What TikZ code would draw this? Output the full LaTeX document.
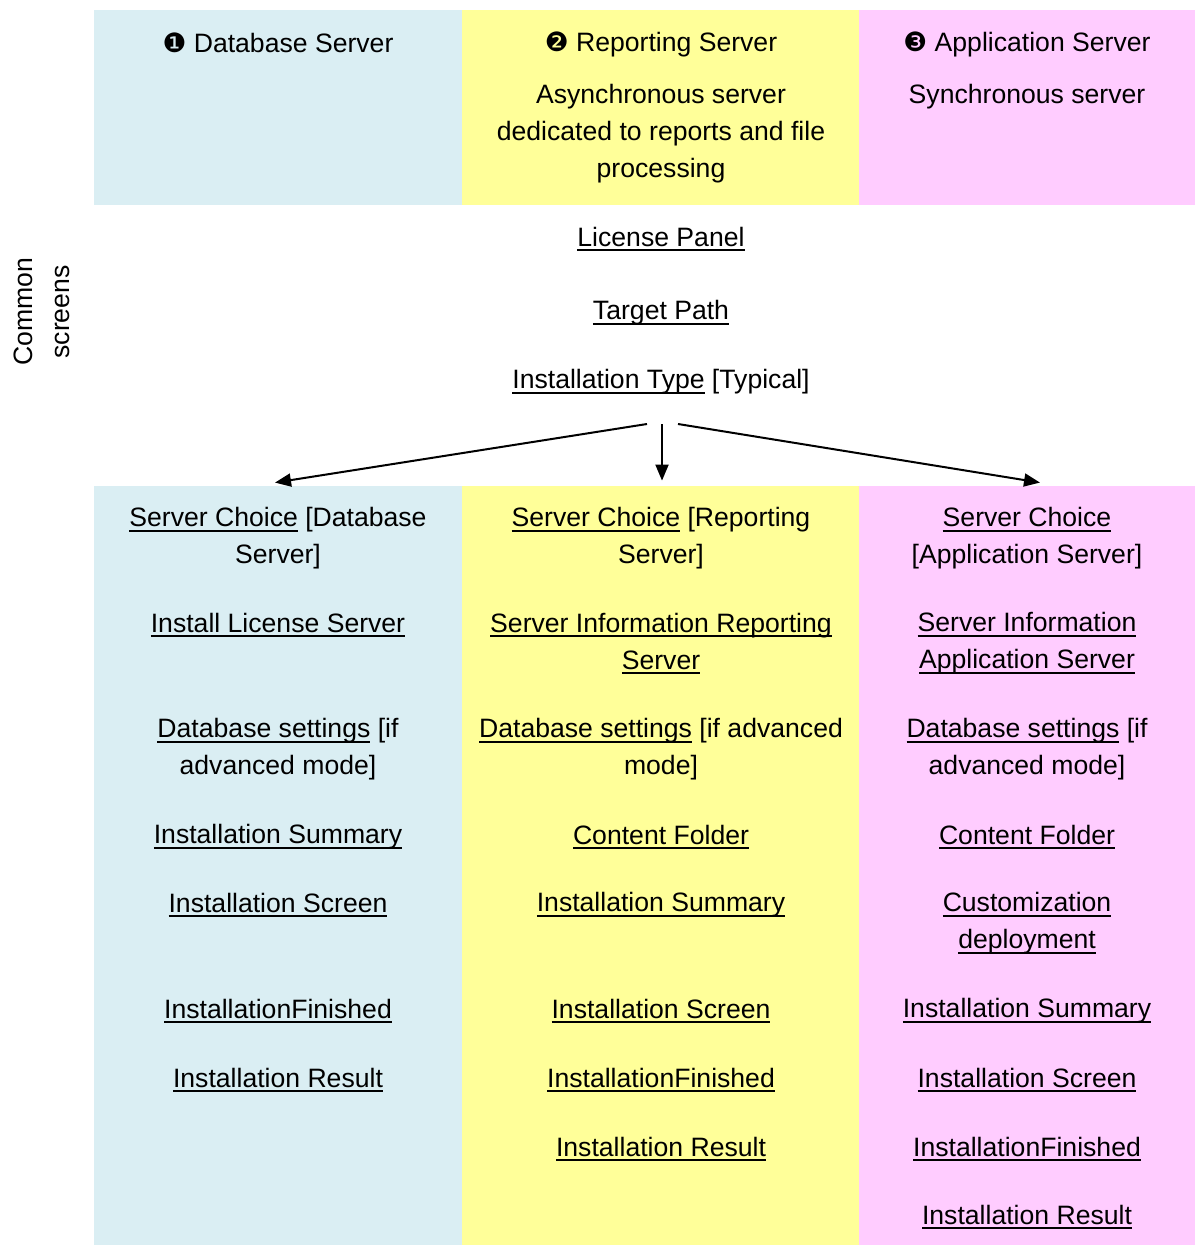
\documentclass[tikz,border=0pt]{standalone}
\usepackage{fontspec}
\setmainfont{Liberation Sans}
\newfontfamily\dingfont{DejaVu Sans}
\usetikzlibrary{arrows.meta}
\definecolor{dbblue}{HTML}{DAEEF3}
\definecolor{repyellow}{HTML}{FFFF99}
\definecolor{apppink}{HTML}{FFCCFF}
\newlength{\lnkwd}
\newcommand{\lnk}[1]{\settowidth{\lnkwd}{#1}\rlap{\rule[-2.4pt]{\lnkwd}{0.9pt}}#1}

\begin{document}
\begin{tikzpicture}[x=0.5pt, y=-0.5pt,
    every node/.style={font=\fontsize{13.3}{18.5}\selectfont, align=center, inner sep=0pt},
    colbox/.style={draw=none, minimum height=379.5pt},
    headbox/.style={draw=none, minimum height=97.5pt},
    arr/.style={-{Triangle[length=8pt,width=6.5pt]}, line width=1pt}]
    \useasboundingbox (0,0) rectangle (1196,1245);

    % header row
    \node[headbox, fill=dbblue, minimum width=184pt] (dbtop) at (278,107.5) {};
    \node[headbox, fill=repyellow, minimum width=198.5pt] (reptop) at (660.5,107.5) {};
    \node[headbox, fill=apppink, minimum width=168pt] (apptop) at (1027,107.5) {};

    \node (dbhead) at (278,43) {{\dingfont ❶} Database Server};
    \node (rephead) at (661,44) {{\dingfont ❷} Reporting Server};
    \node (repdesc) at (661,134) {Asynchronous server\\dedicated to reports and file\\processing};
    \node (apphead) at (1027,44) {{\dingfont ❸} Application Server};
    \node (appdesc) at (1027,97) {Synchronous server};

    % common screens
    \node[rotate=90] (common) at (42,312) {Common\\screens};
    \node (license) at (661,239) {\lnk{License Panel}};
    \node (target) at (661,313) {\lnk{Target Path}};
    \node (insttype) at (661,382) {\lnk{Installation Type} [Typical]};
    \coordinate (fork) at (662,424);

    % columns
    \node[colbox, fill=dbblue, minimum width=184pt] (dbcol) at (278,865.5) {};
    \node[colbox, fill=repyellow, minimum width=198.5pt] (repcol) at (660.5,865.5) {};
    \node[colbox, fill=apppink, minimum width=168pt] (appcol) at (1027,865.5) {};

    \draw[arr] ([xshift=-7.5pt]fork) -- ([xshift=-1.5pt,yshift=1.5pt]dbcol.north);
    \draw[arr] (fork) -- ([xshift=0.75pt,yshift=2.5pt]repcol.north);
    \draw[arr] ([xshift=8pt]fork) -- ([xshift=6.5pt,yshift=1.5pt]appcol.north);

    % database server screens
    \node (db1) at (278,538.5) {\lnk{Server Choice} [Database\\Server]};
    \node (db2) at (278,625) {\lnk{Install License Server}};
    \node (db3) at (278,749.5) {\lnk{Database settings} [if\\advanced mode]};
    \node (db4) at (278,837) {\lnk{Installation Summary}};
    \node (db5) at (278,905) {\lnk{Installation Screen}};
    \node (db6) at (278,1011) {\lnk{InstallationFinished}};
    \node (db7) at (278,1080) {\lnk{Installation Result}};

    % reporting server screens
    \node (rep1) at (661,538.5) {\lnk{Server Choice} [Reporting\\Server]};
    \node (rep2) at (661,643.5) {\lnk{Server Information Reporting}\\\lnk{Server}};
    \node (rep3) at (661,749.5) {\lnk{Database settings} [if advanced\\mode]};
    \node (rep4) at (661,837) {\lnk{Content Folder}};
    \node (rep5) at (661,905) {\lnk{Installation Summary}};
    \node (rep6) at (661,1011) {\lnk{Installation Screen}};
    \node (rep7) at (661,1080) {\lnk{InstallationFinished}};
    \node (rep8) at (661,1149) {\lnk{Installation Result}};

    % application server screens
    \node (app1) at (1027,538.5) {\lnk{Server Choice}\\{}[Application Server]};
    \node (app2) at (1027,643.5) {\lnk{Server Information}\\\lnk{Application Server}};
    \node (app3) at (1027,749.5) {\lnk{Database settings} [if\\advanced mode]};
    \node (app4) at (1027,837) {\lnk{Content Folder}};
    \node (app5) at (1027,923.5) {\lnk{Customization}\\\lnk{deployment}};
    \node (app6) at (1027,1011) {\lnk{Installation Summary}};
    \node (app7) at (1027,1080) {\lnk{Installation Screen}};
    \node (app8) at (1027,1149) {\lnk{InstallationFinished}};
    \node (app9) at (1027,1217) {\lnk{Installation Result}};
\end{tikzpicture}
\end{document}
